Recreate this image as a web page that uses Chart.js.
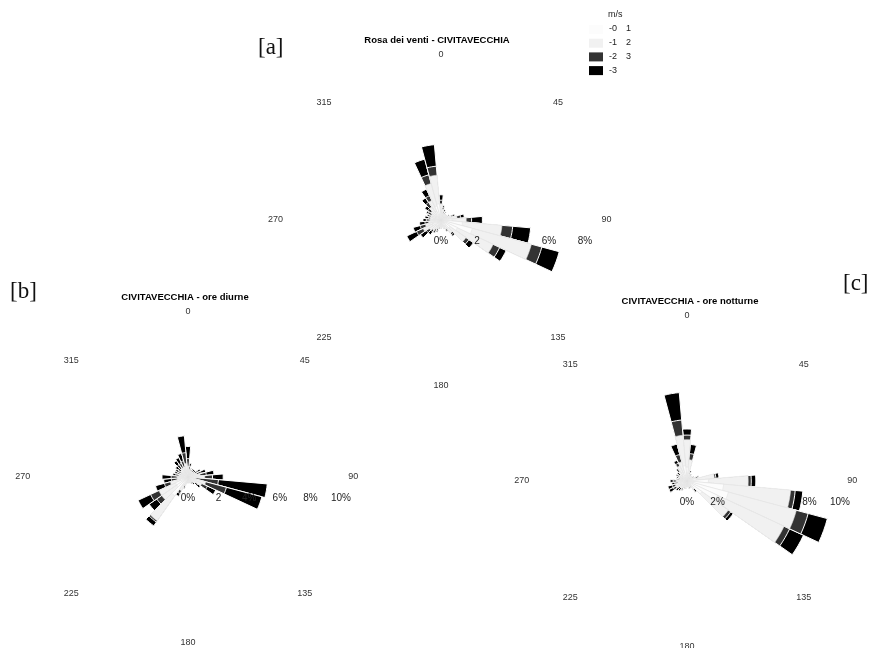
<!DOCTYPE html>
<html>
<head>
<meta charset="utf-8">
<script src="https://cdn.jsdelivr.net/npm/chart.js@4.4.1/dist/chart.umd.min.js"></script>
<style>
  html, body { margin: 0; padding: 0; background: #fff; }
  #wrap { position: relative; width: 872px; height: 648px; overflow: hidden; }
  canvas { position: absolute; left: 0; top: 0; }
  .tag { position: absolute; font-family: "Liberation Serif", "Times New Roman", serif; font-size: 23px; line-height: 1; color: #111; }
</style>
</head>
<body>
<div id="wrap">
  <canvas id="roseA" width="872" height="648"></canvas>
  <canvas id="roseB" width="872" height="648"></canvas>
  <canvas id="roseC" width="872" height="648"></canvas>
  <div class="tag" style="left:258px; top:35px">[a]</div>
  <div class="tag" style="left:10px; top:279px">[b]</div>
  <div class="tag" style="left:843px; top:271px">[c]</div>
</div>
<script>
// direction sectors, 10 degrees each
const directions = [0,10,20,30,40,50,60,70,80,90,100,110,120,130,140,150,160,170,
                    180,190,200,210,220,230,240,250,260,270,280,290,300,310,320,330,340,350];
const dirLabels = [0, 45, 90, 135, 180, 225, 270, 315];

// speed classes (m/s)
const speedLabels = ['-0  1', '-1  2', '-2  3', '-3'];
const speedColors = ['#fcfcfc', '#f1f1f1', '#333333', '#000000'];

// [a] Rosa dei venti - frequency % per class
const all_0_1 = [0.4,0.3,0.2,0.2,0.2,0.2,0.2,0.3,0.4,0.6,1.2,1.8,1.0,0.6,0.4,0.3,0.2,0.2,0.2,0.2,0.3,0.3,0.4,0.4,0.5,0.4,0.3,0.3,0.3,0.3,0.3,0.3,0.4,0.5,0.8,0.9];
const all_1_2 = [0.5,0.3,0.2,0.2,0.2,0.2,0.2,0.3,0.5,0.8,2.2,3.4,2.2,1.1,0.5,0.3,0.3,0.2,0.2,0.2,0.2,0.3,0.3,0.4,0.6,0.5,0.4,0.3,0.3,0.3,0.3,0.4,0.5,0.7,1.3,1.6];
const all_2_3 = [0.2,0.1,0.1,0.1,0,0,0.1,0.1,0.2,0.3,0.6,0.6,0.4,0.2,0.1,0.1,0,0,0.1,0.1,0.1,0.1,0.1,0.2,0.4,0.3,0.2,0.2,0.1,0.1,0.2,0.2,0.3,0.3,0.5,0.5];
const all_3   = [0.3,0.1,0.1,0,0,0,0,0.1,0.2,0.6,1.0,1.0,0.4,0.3,0.1,0,0,0,0,0,0.1,0.1,0.2,0.4,0.6,0.4,0.3,0.2,0.2,0.1,0.1,0.2,0.3,0.4,0.9,1.2];

// [b] ore diurne
const day_0_1 = [0.3,0.2,0.2,0.2,0.2,0.2,0.3,0.3,0.4,0.5,0.2,0.4,0.4,0.3,0.2,0.2,0.2,0.2,0.2,0.2,0.3,0.5,1.5,0.9,0.9,0.5,0.3,0.3,0.3,0.2,0.2,0.3,0.3,0.3,0.3,0.4];
const day_1_2 = [0.4,0.3,0.2,0.2,0.2,0.2,0.2,0.3,0.4,0.6,0.3,0.8,0.6,0.3,0.2,0.2,0.2,0.2,0.2,0.2,0.3,0.5,2.0,1.2,1.2,0.7,0.4,0.4,0.3,0.3,0.3,0.3,0.4,0.4,0.4,0.5];
const day_2_3 = [0.5,0.2,0.1,0.1,0.1,0.1,0.2,0.3,0.4,0.5,1.5,1.4,0.4,0.2,0.1,0.1,0,0,0,0,0.1,0.2,0.1,0.4,0.6,0.4,0.4,0.4,0.2,0.2,0.2,0.2,0.3,0.3,0.4,0.7];
const day_3   = [0.8,0.2,0.1,0.1,0.1,0.1,0.2,0.3,0.5,0.7,3.2,2.4,0.6,0.2,0.1,0,0,0,0,0,0.1,0.2,0.3,0.6,0.9,0.6,0.5,0.6,0.2,0.2,0.2,0.2,0.3,0.4,0.5,1.1];

// [c] ore notturne
const night_0_1 = [0.9,0.5,0.2,0.2,0.2,0.2,0.2,0.3,0.6,1.4,2.4,2.8,2.2,1.2,0.3,0.2,0.2,0.2,0.2,0.2,0.2,0.2,0.3,0.3,0.4,0.4,0.3,0.3,0.2,0.2,0.3,0.3,0.4,0.5,0.6,1.0];
const night_1_2 = [1.8,0.9,0.3,0.2,0.2,0.2,0.2,0.3,1.2,2.6,4.4,4.6,4.8,2.1,0.4,0.2,0.2,0.2,0.2,0.2,0.2,0.3,0.3,0.3,0.4,0.4,0.3,0.4,0.3,0.3,0.3,0.3,0.4,0.6,0.7,2.0];
const night_2_3 = [0.3,0.4,0.1,0.1,0,0,0.1,0.1,0.1,0.2,0.3,0.8,0.4,0.2,0.1,0.1,0.1,0,0,0.1,0.1,0.1,0.1,0.1,0.2,0.2,0.2,0.2,0.1,0.1,0.1,0.1,0.1,0.2,0.5,1.0];
const night_3   = [0.4,0.6,0.1,0,0,0,0,0.1,0.2,0.3,0.5,1.3,1.0,0.2,0.1,0,0,0,0,0,0,0.1,0.1,0.2,0.3,0.3,0.2,0.2,0.1,0.1,0.1,0.1,0.1,0.2,0.7,1.8];

// radial tick labels drawn along the east axis
const ticksA = [0, 2, 6, 8];    const tickLabelsA = ['0%', '2', '6%', '8%'];
const ticksB = [0, 2, 4, 6, 8, 10]; const tickLabelsB = ['0%', '2', '4%', '6%', '8%', '10%'];
const ticksC = [0, 2, 8, 10];   const tickLabelsC = ['0%', '2%', '8%', '10%'];

const FONT = '"Liberation Sans", Arial, sans-serif';

// stack the classes: outermost wedge is the total, lighter ones drawn on top
function stacked(classes) {
  const out = [];
  let run = directions.map(() => 0);
  classes.forEach(c => {
    run = run.map((v, i) => +(v + c[i]).toFixed(2));
    out.push(run.slice());
  });
  return out.map((data, k) => ({
    label: speedLabels[k],
    data: data,
    backgroundColor: speedColors[k],
    borderColor: k < 2 ? '#e2e2e2' : '#ffffff',
    borderWidth: k < 2 ? 0.6 : 1
  }));
}

const roseDecor = {
  id: 'roseDecor',
  afterDatasetsDraw(chart, args, opts) {
    const r = chart.scales.r;
    const ctx = chart.ctx;
    const cx = r.xCenter, cy = r.yCenter;
    ctx.save();
    ctx.fillStyle = '#333';
    ctx.textAlign = 'center';
    ctx.textBaseline = 'middle';

    ctx.font = '9px ' + FONT;
    const ring = r.getDistanceFromCenterForValue(opts.ring);
    dirLabels.forEach(d => {
      const a = d * Math.PI / 180;
      ctx.fillText(String(d), cx + ring * Math.sin(a), cy - ring * Math.cos(a));
    });

    ctx.fillStyle = '#222';
    ctx.font = '10px ' + FONT;
    opts.ticks.forEach((v, i) => {
      ctx.fillText(opts.tickLabels[i], cx + r.getDistanceFromCenterForValue(v), cy + 21);
    });

    ctx.fillStyle = '#000';
    ctx.font = 'bold 9.5px ' + FONT;
    ctx.fillText(opts.title, cx + opts.titleDx, cy - ring - 14);

    if (opts.legend) {
      const lx = opts.legend.x, ly = opts.legend.y;
      ctx.font = '9px ' + FONT;
      ctx.fillStyle = '#222';
      ctx.textAlign = 'left';
      ctx.fillText('m/s', lx + 19, ly + 5);
      chart.data.datasets.forEach((ds, k) => {
        const y = ly + 19 + k * 13.7;
        ctx.fillStyle = ds.backgroundColor;
        ctx.fillRect(lx, y - 4, 14, 9);
        ctx.fillStyle = '#222';
        const parts = ds.label.split(/\s+/);
        ctx.fillText(parts[0], lx + 20, y);
        if (parts[1]) ctx.fillText(parts[1], lx + 37, y);
      });
    }
    ctx.restore();
  }
};

function makeRose(id, classes, box, deco) {
  const W = 872, H = 648;
  new Chart(document.getElementById(id), {
    type: 'polarArea',
    data: { labels: directions.map(String), datasets: stacked(classes) },
    options: {
      responsive: false,
      animation: false,
      layout: { padding: {
        left: box.cx - box.R, right: W - box.cx - box.R,
        top: box.cy - box.R, bottom: H - box.cy - box.R } },
      scales: {
        r: {
          min: 0, max: 10, startAngle: -5,
          ticks: { display: false },
          grid: { display: false },
          angleLines: { display: false },
          pointLabels: { display: false }
        }
      },
      plugins: {
        legend: { display: false },
        tooltip: { enabled: false },
        roseDecor: deco
      }
    },
    plugins: [roseDecor]
  });
}

makeRose('roseA', [all_0_1, all_1_2, all_2_3, all_3], { cx: 441, cy: 220, R: 180 },
  { title: 'Rosa dei venti - CIVITAVECCHIA', titleDx: -4, ring: 9.2,
    ticks: ticksA, tickLabels: tickLabelsA, legend: { x: 589, y: 10 } });
makeRose('roseB', [day_0_1, day_1_2, day_2_3, day_3], { cx: 188, cy: 477, R: 153 },
  { title: 'CIVITAVECCHIA - ore diurne', titleDx: -3, ring: 10.8,
    ticks: ticksB, tickLabels: tickLabelsB });
makeRose('roseC', [night_0_1, night_1_2, night_2_3, night_3], { cx: 687, cy: 481, R: 153 },
  { title: 'CIVITAVECCHIA - ore notturne', titleDx: 3, ring: 10.8,
    ticks: ticksC, tickLabels: tickLabelsC });
</script>
</body>
</html>
